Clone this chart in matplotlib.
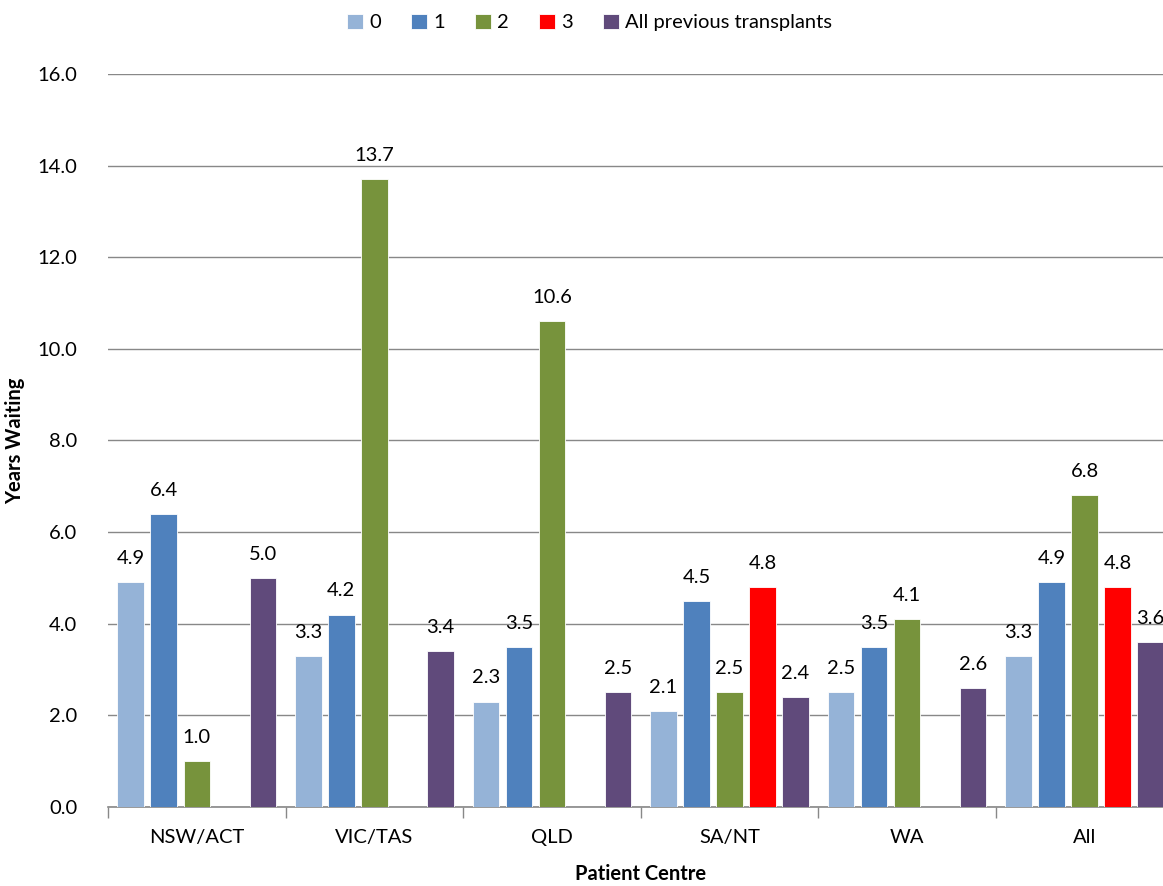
import numpy as np
import matplotlib.pyplot as plt

plt.rcParams["font.family"] = ["Lato", "DejaVu Sans"]

centres = ["NSW/ACT", "VIC/TAS", "QLD", "SA/NT", "WA", "All"]
series_names = ["0", "1", "2", "3", "All previous transplants"]
years_0 = [4.9, 3.3, 2.3, 2.1, 2.5, 3.3]
years_1 = [6.4, 4.2, 3.5, 4.5, 3.5, 4.9]
years_2 = [1.0, 13.7, 10.6, 2.5, 4.1, 6.8]
years_3 = [np.nan, np.nan, np.nan, 4.8, np.nan, 4.8]
years_all = [5.0, 3.4, 2.5, 2.4, 2.6, 3.6]
colors = ["#95B3D7", "#4F81BD", "#77933C", "#FF0000", "#604A7B"]
yticks = np.arange(0, 16.1, 2.0)

fig = plt.figure(figsize=(11.63, 8.86), dpi=100)
ax = fig.add_axes([0.0929, 0.0892, 0.916, 0.8273])

x = np.arange(len(centres))
pitch = 0.186
width = 0.15
all_series = [years_0, years_1, years_2, years_3, years_all]
for i, (name, vals, col) in enumerate(zip(series_names, all_series, colors)):
    pos = x + (i - 2) * pitch
    ax.bar(pos, vals, width=width, color=col, edgecolor="white",
           linewidth=0.6, label=name, zorder=3)
    for xp, v in zip(pos, vals):
        if np.isnan(v):
            continue
        ax.annotate(f"{v:.1f}", (xp, v), xytext=(0, 17), textcoords="offset points",
                    ha="center", va="center", fontsize=14.5, color="#000000",
                    annotation_clip=False)

ax.set_xlim(-0.5, len(centres) - 0.5)
ax.set_ylim(0, 16)
ax.set_yticks(yticks)
ax.set_yticklabels([f"{t:.1f}" for t in yticks], fontsize=14.5)
ax.tick_params(axis="y", length=0, pad=22)
ax.yaxis.grid(True, color="#888888", linewidth=1.0, zorder=0)

ax.set_xticks(x)
ax.set_xticklabels(centres, fontsize=14.5)
ax.tick_params(axis="x", length=0, pad=16)
ax.set_xticks(np.arange(-0.5, len(centres), 1.0), minor=True)
ax.tick_params(axis="x", which="minor", length=8, color="#888888", width=1.0)

for s in ["top", "right", "left"]:
    ax.spines[s].set_visible(False)
ax.spines["bottom"].set_color("#888888")
ax.spines["bottom"].set_linewidth(1.2)

ax.set_ylabel("Years Waiting", fontsize=14.5, fontweight="bold", labelpad=9)
ax.set_xlabel("Patient Centre", fontsize=14.5, fontweight="bold", labelpad=13)

fig.legend(loc="upper center", bbox_to_anchor=(0.507, 1.005), ncol=5, frameon=False,
           fontsize=14.5, handlelength=0.8, handleheight=0.8, handletextpad=0.3,
           columnspacing=1.5)

fig.savefig("out.png", dpi=100)
